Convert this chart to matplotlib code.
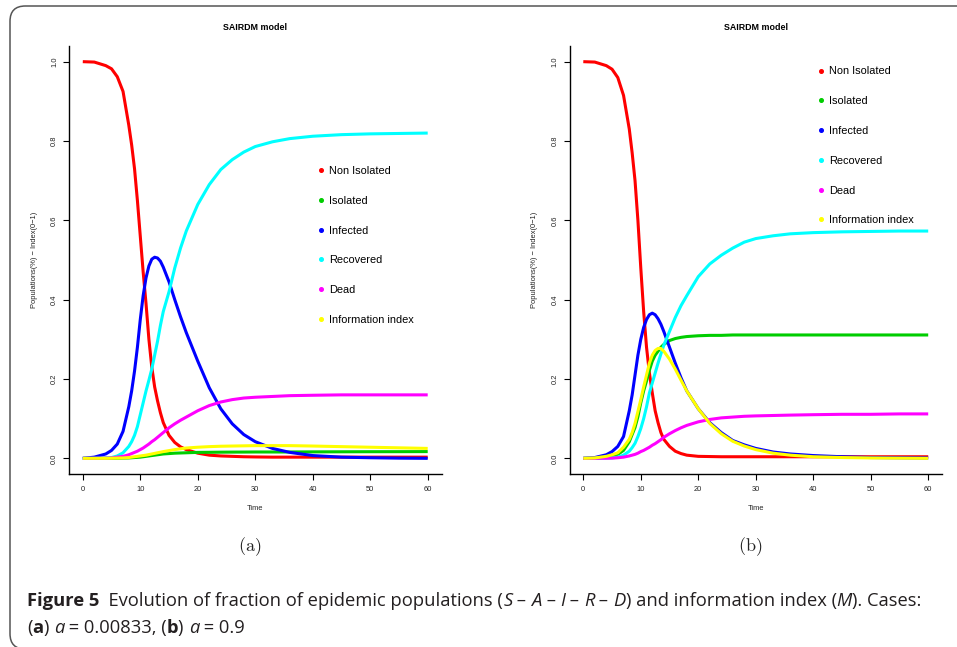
import matplotlib
matplotlib.use("Agg")
import matplotlib.pyplot as plt
from matplotlib.lines import Line2D
from matplotlib.patches import FancyBboxPatch
from matplotlib import font_manager

# ---------------- data ----------------
time = [0, 2, 4, 5, 6, 7, 8, 8.5, 9, 9.5, 10, 10.5, 11, 11.5, 12, 12.5, 13, 13.5,
        14, 15, 16, 17, 18, 20, 22, 24, 26, 28, 30, 33, 36, 40, 45, 50, 55, 60]

labels = ["Non Isolated", "Isolated", "Infected", "Recovered", "Dead", "Information index"]
colors = ["#FF0000", "#00CD00", "#0000FF", "#00FFFF", "#FF00FF", "#FFFF00"]

# panel (a): a = 0.00833
a_S = [1.0, 0.999, 0.99, 0.982, 0.962, 0.925, 0.84, 0.79, 0.73, 0.65, 0.56, 0.47, 0.39, 0.30,
       0.23, 0.18, 0.145, 0.115, 0.09, 0.058, 0.04, 0.029, 0.022, 0.013, 0.008, 0.006, 0.005,
       0.004, 0.0035, 0.003, 0.003, 0.003, 0.003, 0.003, 0.003, 0.003]
a_A = [0, 0, 0, 0.0001, 0.0003, 0.0006, 0.001, 0.0015, 0.002, 0.0025, 0.003, 0.004, 0.005, 0.006,
       0.007, 0.008, 0.009, 0.010, 0.011, 0.012, 0.013, 0.0135, 0.014, 0.015, 0.0152, 0.0155,
       0.0157, 0.0158, 0.016, 0.016, 0.016, 0.0163, 0.0165, 0.0167, 0.0168, 0.017]
a_I = [0, 0.003, 0.011, 0.02, 0.036, 0.068, 0.13, 0.17, 0.22, 0.28, 0.35, 0.41, 0.455, 0.485,
       0.502, 0.507, 0.505, 0.497, 0.482, 0.445, 0.40, 0.357, 0.317, 0.245, 0.178, 0.125, 0.087,
       0.06, 0.042, 0.025, 0.015, 0.007, 0.003, 0.0015, 0.0005, 0.0]
a_R = [0, 0, 0.001, 0.002, 0.006, 0.014, 0.03, 0.042, 0.058, 0.08, 0.11, 0.14, 0.17, 0.197,
       0.225, 0.26, 0.295, 0.335, 0.37, 0.42, 0.48, 0.53, 0.573, 0.64, 0.69, 0.728, 0.753,
       0.772, 0.786, 0.798, 0.806, 0.812, 0.816, 0.818, 0.819, 0.82]
a_D = [0, 0, 0.0005, 0.001, 0.003, 0.005, 0.009, 0.012, 0.015, 0.018, 0.022, 0.026, 0.031, 0.036,
       0.042, 0.047, 0.053, 0.059, 0.065, 0.077, 0.087, 0.096, 0.104, 0.12, 0.133, 0.142, 0.148,
       0.152, 0.154, 0.156, 0.158, 0.159, 0.16, 0.16, 0.16, 0.16]
a_M = [0, 0, 0, 0.0003, 0.0006, 0.001, 0.002, 0.003, 0.004, 0.005, 0.006, 0.007, 0.008, 0.0095,
       0.011, 0.0125, 0.014, 0.0155, 0.017, 0.0195, 0.022, 0.024, 0.026, 0.028, 0.0295, 0.0305,
       0.031, 0.0315, 0.032, 0.032, 0.032, 0.031, 0.0295, 0.028, 0.0265, 0.025]

# panel (b): a = 0.9
b_S = [1.0, 0.999, 0.99, 0.981, 0.96, 0.915, 0.83, 0.77, 0.70, 0.60, 0.48, 0.37, 0.28, 0.215,
       0.165, 0.12, 0.09, 0.065, 0.048, 0.03, 0.018, 0.012, 0.008, 0.005, 0.0045, 0.004, 0.004,
       0.004, 0.004, 0.004, 0.004, 0.004, 0.004, 0.004, 0.004, 0.004]
b_A = [0, 0.0005, 0.003, 0.005, 0.01, 0.02, 0.042, 0.06, 0.078, 0.105, 0.14, 0.17, 0.195, 0.222,
       0.245, 0.26, 0.27, 0.28, 0.287, 0.297, 0.302, 0.305, 0.307, 0.309, 0.31, 0.31, 0.311,
       0.311, 0.311, 0.311, 0.311, 0.311, 0.311, 0.311, 0.311, 0.311]
b_I = [0, 0.002, 0.009, 0.017, 0.03, 0.055, 0.12, 0.16, 0.21, 0.26, 0.30, 0.33, 0.35, 0.362,
       0.366, 0.362, 0.352, 0.338, 0.32, 0.28, 0.24, 0.203, 0.17, 0.125, 0.09, 0.065, 0.045,
       0.034, 0.025, 0.016, 0.011, 0.007, 0.004, 0.002, 0.0015, 0.001]
b_R = [0, 0, 0.0005, 0.001, 0.003, 0.008, 0.018, 0.027, 0.038, 0.055, 0.075, 0.10, 0.13, 0.165,
       0.19, 0.215, 0.24, 0.263, 0.285, 0.32, 0.355, 0.385, 0.41, 0.458, 0.49, 0.512, 0.53,
       0.545, 0.554, 0.561, 0.566, 0.569, 0.571, 0.572, 0.573, 0.573]
b_D = [0, 0, 0.0003, 0.0005, 0.0015, 0.003, 0.006, 0.008, 0.01, 0.013, 0.017, 0.02, 0.024, 0.028,
       0.033, 0.037, 0.042, 0.047, 0.053, 0.062, 0.07, 0.077, 0.083, 0.092, 0.098, 0.102, 0.104,
       0.106, 0.107, 0.108, 0.109, 0.11, 0.111, 0.111, 0.112, 0.112]
b_M = [0, 0.001, 0.005, 0.009, 0.014, 0.028, 0.048, 0.065, 0.088, 0.118, 0.148, 0.18, 0.21, 0.24,
       0.26, 0.272, 0.277, 0.277, 0.27, 0.25, 0.225, 0.197, 0.17, 0.125, 0.088, 0.062, 0.043,
       0.031, 0.022, 0.013, 0.008, 0.004, 0.002, 0.001, 0.0005, 0.0]

x_ticks = [0, 10, 20, 30, 40, 50, 60]
y_ticks = [0.0, 0.2, 0.4, 0.6, 0.8, 1.0]

# ---------------- figure ----------------
W, H = 957, 647
plt.rcParams['mathtext.fontset'] = 'cm'
fig = plt.figure(figsize=(W / 100, H / 100), dpi=100)
fig.patch.set_facecolor("white")

def fx(px):
    return px / W

def fy(py):
    return 1 - py / H

# page frame (rounded)
frame = FancyBboxPatch((fx(10), fy(649)), fx(990) - fx(10), fy(6) - fy(649),
                       boxstyle="round,pad=0,rounding_size=0.016",
                       transform=fig.transFigure, fill=False, edgecolor="#555555",
                       linewidth=1.1, mutation_aspect=W / H, clip_on=False)
fig.patches.append(frame)

sans = "Liberation Sans"

panels = [
    dict(left=69, series=[a_S, a_A, a_I, a_R, a_D, a_M], leg=(318.5, 166), sub="(a)", subx=250),
    dict(left=569.5, series=[b_S, b_A, b_I, b_R, b_D, b_M], leg=(818.5, 66.5), sub="(b)", subx=750),
]

top_px, bot_px, width_px = 45.8, 474.2, 372.5

for p in panels:
    ax = fig.add_axes([fx(p['left']), fy(bot_px), fx(width_px), fy(top_px) - fy(bot_px)])
    for vals, c in zip(p['series'], colors):
        ax.plot(time, vals, color=c, lw=2.2, solid_capstyle='butt', solid_joinstyle='round')
    ax.set_xlim(-2.4, 62.4)
    ax.set_ylim(-0.04, 1.04)
    ax.set_xticks(x_ticks)
    ax.set_xticklabels([str(v) for v in x_ticks])
    ax.set_yticks(y_ticks)
    ax.set_yticklabels([f"{v:.1f}" for v in y_ticks], rotation=90, va='center')
    for s in ['top', 'right']:
        ax.spines[s].set_visible(False)
    for s in ['left', 'bottom']:
        ax.spines[s].set_linewidth(1.0)
    ax.tick_params(axis='both', length=4.3, width=0.8, labelsize=5.4, colors='#000000',
                   labelcolor='#222222')
    ax.tick_params(axis='x', pad=4.0)
    ax.tick_params(axis='y', pad=3.5)
    for lab in ax.get_xticklabels() + ax.get_yticklabels():
        lab.set_fontfamily(sans)
    cx = p['left'] + width_px / 2
    fig.text(fx(cx), fy(27), "SAIRDM model", ha='center', va='center', fontsize=6.4,
             fontweight='bold', family=sans)
    fig.text(fx(cx), fy(508), "Time", ha='center', va='center', fontsize=5.4, family=sans,
             color='#222222')
    fig.text(fx(p['left'] - 34.5), fy(260), "Populations(%) \u2212 Index(0\u22121)", rotation=90,
             ha='center', va='center', fontsize=5.4, family=sans, color='#222222')
    handles = [Line2D([], [], marker='o', ms=2.6, color=c, ls='none') for c in colors]
    ax.legend(handles, labels, loc='upper left',
              bbox_to_anchor=(fx(p['leg'][0]), fy(p['leg'][1])), bbox_transform=fig.transFigure,
              frameon=False, prop=dict(family=sans, size=7.9), handlelength=0.5,
              handletextpad=0.5, labelspacing=1.8, borderpad=0, borderaxespad=0)
    fig.text(fx(p['subx']), fy(547), r"$\mathrm{" + p['sub'] + "}$", ha='center', va='center',
             fontsize=13, color='#222222')

# ---------------- caption ----------------
def pick_font():
    for name in ["Liberation Sans Narrow", "Open Sans", "Liberation Sans"]:
        try:
            font_manager.findfont(font_manager.FontProperties(family=name),
                                  fallback_to_default=False)
            return name
        except Exception:
            continue
    return "DejaVu Sans"

cap_font = pick_font()
cap_color = "#231F20"
line1 = [("Figure 5", 'bold', 'normal'), ("  Evolution of fraction of epidemic populations (", 'normal', 'normal'),
         ("S", 'normal', 'italic'), (" \u2013 ", 'normal', 'normal'), ("A", 'normal', 'italic'),
         (" \u2013 ", 'normal', 'normal'), ("I", 'normal', 'italic'), (" \u2013 ", 'normal', 'normal'),
         ("R", 'normal', 'italic'), (" \u2013 ", 'normal', 'normal'), ("D", 'normal', 'italic'),
         (") and information index (", 'normal', 'normal'), ("M", 'normal', 'italic'),
         ("). Cases:", 'normal', 'normal')]
line2 = [("(", 'normal', 'normal'), ("a", 'bold', 'normal'), (") ", 'normal', 'normal'),
         ("a", 'normal', 'italic'), (" = 0.00833, (", 'normal', 'normal'), ("b", 'bold', 'normal'),
         (") ", 'normal', 'normal'), ("a", 'normal', 'italic'), (" = 0.9", 'normal', 'normal')]

renderer = fig.canvas.get_renderer()

def layout(pieces, x0, ybase, size):
    x = x0
    arts = []
    for txt, wt, st in pieces:
        t = fig.text(fx(x), fy(ybase), txt, ha='left', va='baseline', fontsize=size,
                     fontweight=wt, fontstyle=st, family=cap_font, color=cap_color)
        bb = t.get_window_extent(renderer)
        x += bb.width
        arts.append(t)
    return arts, x - x0

size = 12.5
arts, wline = layout(line1, 27, 606, size)
for a in arts:
    a.remove()
size = size * 898.0 / wline
size = min(size, 13.5)
layout(line1, 27, 606, size)
layout(line2, 27, 633, size)

fig.savefig("out.png", dpi=100, facecolor='white')
